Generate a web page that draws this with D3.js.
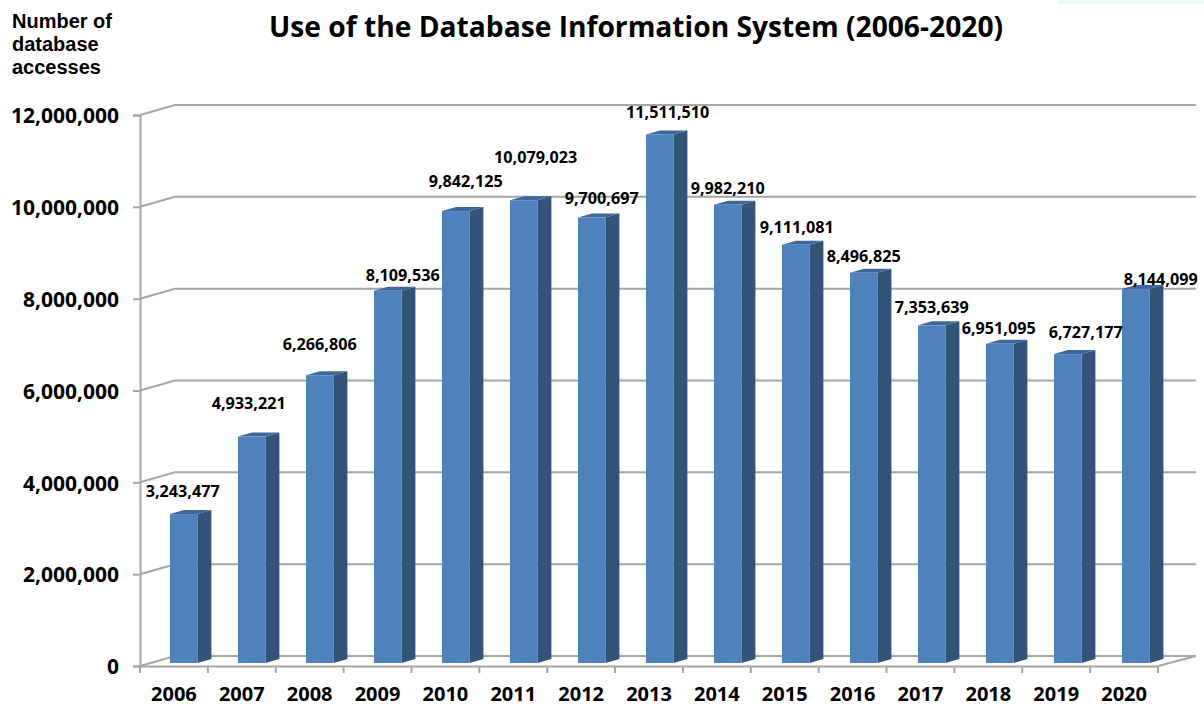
<!DOCTYPE html>
<html>
<head>
<meta charset="utf-8">
<script src="https://cdn.jsdelivr.net/npm/d3@7"></script>
<style>
  html, body { margin: 0; padding: 0; background: #fff; }
  svg { display: block; }
  .num { font-family: "Open Sans", sans-serif; font-weight: 700; fill: #000; }
</style>
</head>
<body>
<div id="chart"></div>
<script>
// values
const years = ["2006", "2007", "2008", "2009", "2010", "2011", "2012", "2013", "2014", "2015", "2016", "2017", "2018", "2019", "2020"];
const accesses = [3243477, 4933221, 6266806, 8109536, 9842125, 10079023, 9700697, 11511510, 9982210, 9111081, 8496825, 7353639, 6951095, 6727177, 8144099];
const yTicks = [0, 2000000, 4000000, 6000000, 8000000, 10000000, 12000000];
const yTitle = ["Number of", "database", "accesses"];
const chartTitle = "Use of the Database Information System (2006-2020)";

// where each value label sits relative to its bar (the labels were placed by hand in the original)
const labelDx = [-1, -3, 0, 15, 10, 12, 10, 8, 0, 1, 0, 0, -1, 18, 25];
const labelDy = [-23, -33, -31, -16, -30, -43, -20, -22, -17, -18, -17, -18, -16, -22, -10];

const width = 1204, height = 706;

// 3d box of the chart: the back wall is the front plane pushed up and right
const wallDx = 35, wallDy = -10;
const barDx = 14, barDy = -4, barWidth = 27.4, barLift = 3;

const svg = d3.select("#chart").append("svg")
  .attr("width", width)
  .attr("height", height);

const x = d3.scaleBand().domain(years).range([140, 1158]);
// the bars stand further back than the axis, so they get their own band
const xBars = d3.scaleBand().domain(years).range([149.7, 1169.7]);
const y = d3.scaleLinear().domain([0, 12000000]).range([666, 115]);

// faint strip in the top right corner of the source image
svg.append("rect")
  .attr("x", 1058).attr("y", 0)
  .attr("width", 146).attr("height", 4)
  .attr("fill", "#f0f7fd");

// gridlines run up the side wall and then along the back wall
svg.append("g").selectAll("path")
  .data(yTicks)
  .join("path")
  .attr("d", d => d3.line()([[140, y(d)], [140 + wallDx, y(d) + wallDy], [1196, y(d) + wallDy]]))
  .attr("fill", "none")
  .attr("stroke", "#a6a6a6")
  .attr("stroke-width", 2);

// right edge of the floor
svg.append("path")
  .attr("d", d3.line()([[1158, y(0)], [1158 + wallDx + 3, y(0) + wallDy]]))
  .attr("fill", "none")
  .attr("stroke", "#a6a6a6")
  .attr("stroke-width", 2);

const yAxis = d3.axisLeft(y)
  .tickValues(yTicks)
  .tickFormat(d3.format(","))
  .tickSize(7)
  .tickPadding(14);

const gy = svg.append("g")
  .attr("transform", "translate(140,0)")
  .call(yAxis);
gy.selectAll("path, line").attr("stroke", "#a6a6a6").attr("stroke-width", 2);
gy.selectAll("text")
  .attr("class", "num")
  .attr("font-size", 21)
  .attr("dy", "0.37em");

const xAxis = d3.axisBottom(x)
  .tickSize(0)
  .tickPadding(21);

const gx = svg.append("g")
  .attr("transform", "translate(0," + y(0) + ")")
  .call(xAxis);
gx.select("path").attr("stroke", "#a6a6a6").attr("stroke-width", 2);
gx.selectAll("text")
  .attr("class", "num")
  .attr("font-size", 20);

// the ticks sit between the categories
svg.append("g").selectAll("line")
  .data(years.concat("end"))
  .join("line")
  .attr("x1", (d, i) => i < years.length ? x(d) : x.range()[1])
  .attr("x2", (d, i) => i < years.length ? x(d) : x.range()[1])
  .attr("y1", y(0))
  .attr("y2", y(0) + 7)
  .attr("stroke", "#a6a6a6")
  .attr("stroke-width", 2);

const rows = years.map((year, i) => ({ year: year, value: accesses[i], i: i }));

// bars
const bars = svg.append("g").selectAll("g")
  .data(rows)
  .join("g")
  .attr("transform", d => "translate(" + (xBars(d.year) + xBars.bandwidth() / 2 - barWidth / 2) + ",0)");

const barTop = d => y(d.value) - barLift;
const barBottom = y(0) - barLift;

bars.append("path")
  .attr("d", d => d3.line()([[barWidth, barTop(d)], [barWidth + barDx, barTop(d) + barDy], [barWidth + barDx, barBottom + barDy], [barWidth, barBottom]]) + "Z")
  .attr("fill", "#325479");

bars.append("path")
  .attr("d", d => d3.line()([[0, barTop(d)], [barDx, barTop(d) + barDy], [barWidth + barDx, barTop(d) + barDy], [barWidth, barTop(d)]]) + "Z")
  .attr("fill", "#3f6898");

bars.append("rect")
  .attr("x", 0)
  .attr("y", d => barTop(d))
  .attr("width", barWidth)
  .attr("height", d => barBottom - barTop(d))
  .attr("fill", "#4f81bd");

// value labels
svg.append("g").selectAll("text")
  .data(rows)
  .join("text")
  .attr("class", "num")
  .attr("font-size", 16.2)
  .attr("text-anchor", "middle")
  .attr("dominant-baseline", "central")
  .attr("x", d => xBars(d.year) + xBars.bandwidth() / 2 + labelDx[d.i])
  .attr("y", d => y(d.value) - barLift + labelDy[d.i])
  .text(d => d3.format(",")(d.value));

svg.append("text")
  .attr("class", "num")
  .attr("x", 636)
  .attr("y", 37)
  .attr("text-anchor", "middle")
  .attr("font-size", 28.2)
  .text(chartTitle);

svg.append("g").selectAll("text")
  .data(yTitle)
  .join("text")
  .attr("x", 12)
  .attr("y", (d, i) => 28 + i * 23)
  .attr("font-family", "'Liberation Sans', sans-serif")
  .attr("font-weight", 700)
  .attr("font-size", 20)
  .text(d => d);
</script>
</body>
</html>
